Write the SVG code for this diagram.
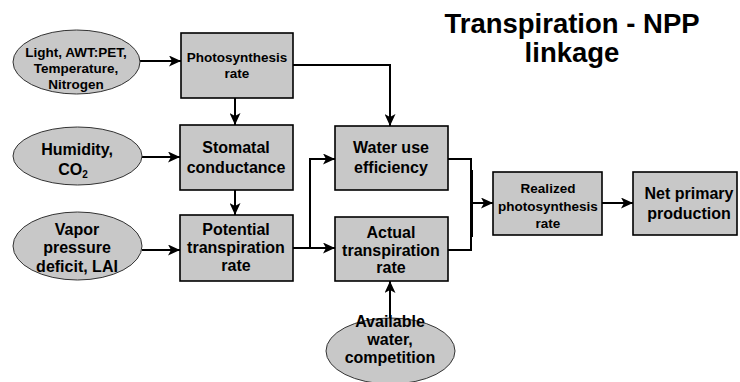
<svg xmlns="http://www.w3.org/2000/svg" width="740" height="382" viewBox="0 0 740 382">
  <style>
    text { font-family: "Liberation Sans", Arial, sans-serif; font-weight: bold; fill: #000; text-anchor: middle; }
    .box { fill: #c8c8c8; stroke: #000; stroke-width: 1.6; }
    .oval { fill: #c8c8c8; stroke: #333; stroke-width: 1; }
    .link { fill: none; stroke: #000; stroke-width: 2; }
    .t13 { font-size: 13.5px; }
    .t16 { font-size: 16px; }
    .title { font-size: 27.5px; }
  </style>
  <defs>
    <marker id="arrow" markerUnits="userSpaceOnUse" markerWidth="12" markerHeight="11" refX="12" refY="5.5" orient="auto">
      <path d="M0,0 L12,5.5 L0,11 L3,5.5 z" fill="#000"/>
    </marker>
  </defs>

  <rect width="740" height="382" fill="#fff"/>

  <!-- heading -->
  <g id="title">
    <text class="title" x="572" y="33">Transpiration - NPP</text>
    <text class="title" x="572" y="62">linkage</text>
  </g>

  <!-- connectors -->
  <g id="connectors">
    <path class="link" d="M140,61 H181" marker-end="url(#arrow)"/>
    <path class="link" d="M235,98 V125" marker-end="url(#arrow)"/>
    <path class="link" d="M142,157 H180" marker-end="url(#arrow)"/>
    <path class="link" d="M235,190 V215" marker-end="url(#arrow)"/>
    <path class="link" d="M142,250 H180" marker-end="url(#arrow)"/>
    <path class="link" d="M293,65 H390 V126" marker-end="url(#arrow)"/>
    <path class="link" d="M293,248 H335" marker-end="url(#arrow)"/>
    <path class="link" d="M310,248 V159 H335" marker-end="url(#arrow)"/>
    <path class="link" d="M448,159 H471 V250 H448"/>
    <path class="link" d="M472,170 V237" stroke-width="3"/>
    <path class="link" d="M471,203 H493" stroke-width="3" marker-end="url(#arrow)"/>
    <path class="link" d="M602,203 H633" marker-end="url(#arrow)"/>
    <path class="link" d="M390,318 V281" marker-end="url(#arrow)"/>
  </g>

  <!-- driver ovals -->
  <g id="light">
    <ellipse class="oval" cx="76.5" cy="62" rx="63.5" ry="32"/>
    <text class="t13" x="76" y="57">Light, AWT:PET,</text>
    <text class="t13" x="76" y="73">Temperature,</text>
    <text class="t13" x="76" y="89">Nitrogen</text>
  </g>
  <g id="humidity">
    <ellipse class="oval" cx="77.5" cy="156" rx="64.5" ry="29"/>
    <text class="t16" x="77" y="155">Humidity,</text>
    <text class="t16" x="73" y="175">CO<tspan font-size="10" dy="3">2</tspan></text>
  </g>
  <g id="vapor">
    <ellipse class="oval" cx="77.5" cy="246" rx="64.5" ry="34"/>
    <text class="t16" x="77" y="235">Vapor</text>
    <text class="t16" x="77" y="253">pressure</text>
    <text class="t16" x="77" y="272">deficit, LAI</text>
  </g>
  <g id="water">
    <ellipse class="oval" cx="390.5" cy="351" rx="64.5" ry="33"/>
    <text class="t16" x="390" y="327">Available</text>
    <text class="t16" x="390" y="345">water,</text>
    <text class="t16" x="390" y="363">competition</text>
  </g>

  <!-- process boxes -->
  <g id="photosynthesis">
    <rect class="box" x="181" y="33" width="112" height="65"/>
    <text class="t13" x="237" y="62">Photosynthesis</text>
    <text class="t13" x="237" y="78">rate</text>
  </g>
  <g id="stomatal">
    <rect class="box" x="180" y="125" width="113" height="65"/>
    <text class="t16" x="236" y="153">Stomatal</text>
    <text class="t16" x="236" y="173">conductance</text>
  </g>
  <g id="potential">
    <rect class="box" x="180" y="215" width="113" height="66"/>
    <text class="t16" x="236" y="235">Potential</text>
    <text class="t16" x="236" y="253">transpiration</text>
    <text class="t16" x="236" y="271">rate</text>
  </g>
  <g id="wue">
    <rect class="box" x="335" y="126" width="113" height="64"/>
    <text class="t16" x="391" y="153">Water use</text>
    <text class="t16" x="391" y="173">efficiency</text>
  </g>
  <g id="actual">
    <rect class="box" x="335" y="217" width="113" height="64"/>
    <text class="t16" x="391" y="238">Actual</text>
    <text class="t16" x="391" y="256">transpiration</text>
    <text class="t16" x="391" y="273">rate</text>
  </g>
  <g id="realized">
    <rect class="box" x="493" y="172" width="109" height="63"/>
    <text class="t13" x="548" y="193">Realized</text>
    <text class="t13" x="548" y="211">photosynthesis</text>
    <text class="t13" x="548" y="228">rate</text>
  </g>
  <g id="npp">
    <rect class="box" x="633" y="172" width="104" height="63"/>
    <text class="t16" x="689" y="199">Net primary</text>
    <text class="t16" x="689" y="219">production</text>
  </g>
</svg>
